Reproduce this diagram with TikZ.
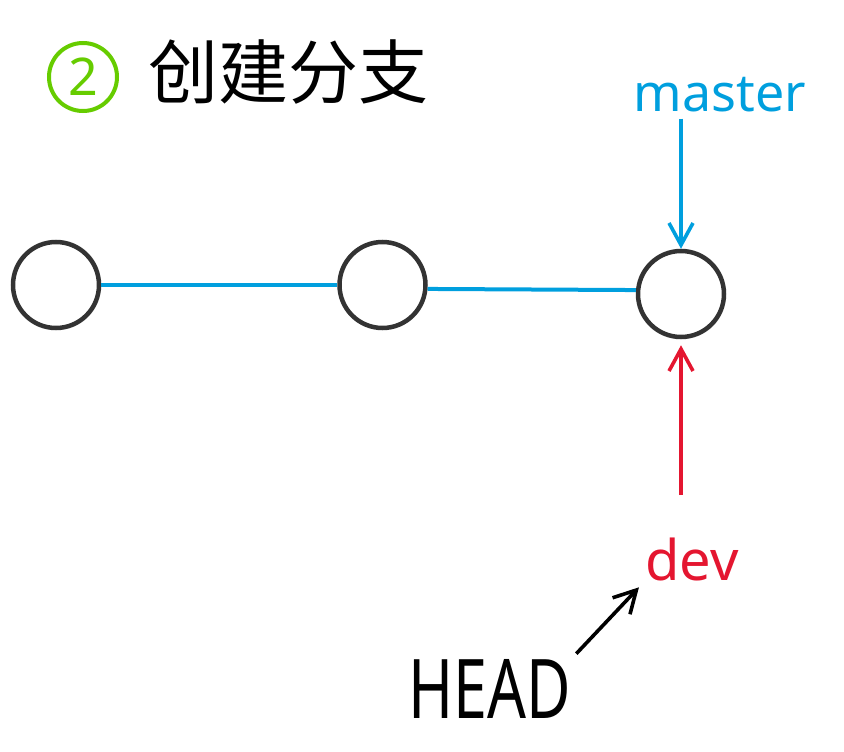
\documentclass[tikz,border=0pt]{standalone}
\usepackage{fontspec}
\setmainfont{Noto Sans}
\newfontfamily\cjk{Noto Sans CJK SC}
\usepackage{xcolor}
\usetikzlibrary{arrows.meta,positioning,calc}

\definecolor{gitblue}{RGB}{0,159,222}
\definecolor{gitred}{RGB}{228,22,48}
\definecolor{gitgreen}{RGB}{102,204,0}
\definecolor{commitgray}{RGB}{51,51,51}

\begin{document}
\begin{tikzpicture}[
    x=1pt, y=-1pt,
    commit/.style={circle, draw=commitgray, line width=4.5pt, minimum size=86pt, inner sep=0pt},
    stepnum/.style={circle, draw=gitgreen, text=gitgreen, line width=4pt, minimum size=68pt, inner sep=0pt, font=\fontsize{52pt}{60pt}\selectfont},
    heading/.style={inner sep=0pt, font=\fontsize{70pt}{80pt}\selectfont\cjk},
    branch/.style={inner sep=0pt, anchor=base},
    link/.style={gitblue, line width=4pt},
    arrow/.style={-{Straight Barb[length=22pt,width=24pt]}, line width=3.6pt}
]
\useasboundingbox (0,0) rectangle (844,752);

% Title
\node[stepnum] (num) at (83,77) {2};
\node[heading] (title) at (288,72) {创建分支};

% Commits
\node[commit] (c1) at (56,285) {};
\node[commit, right=236pt of c1] (c2) {};
\node[commit] (c3) at (681,294) {};

\draw[link] (c1) -- (c2);
\draw[link] (c2.-5) -- (c3.175);

% Branch pointers
\node[branch, gitblue, font=\fontsize{52pt}{60pt}\selectfont] (master) at (720,111) {master};
\node[branch, gitred, font=\fontsize{56pt}{64pt}\selectfont] (dev) at (692,580) {dev};
\node[branch, font=\fontsize{61pt}{70pt}\selectfont] (head) at (490,718) {\scalebox{1}[1.35]{HEAD}};

\draw[arrow, gitblue, shorten <=7pt] (c3 |- master.south) -- (c3.north);
\draw[arrow, gitred, shorten <=42pt, shorten >=6pt] (c3 |- dev.north) -- (c3.south);
\draw[arrow, black, shorten <=7pt, shorten >=9pt] (head.north east) -- (dev.south west);

\end{tikzpicture}
\end{document}
